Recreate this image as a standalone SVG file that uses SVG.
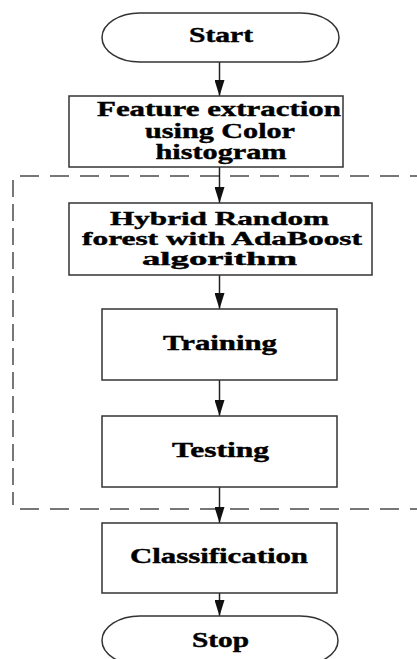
<svg xmlns="http://www.w3.org/2000/svg" width="417" height="659" viewBox="0 0 417 659">
<defs>
<style>
.box{fill:#fff;stroke:#333;stroke-width:1.5}
.lbl{font-family:"Liberation Serif","Times New Roman",serif;font-weight:bold;font-size:20px;fill:#000;stroke:#000;stroke-width:0.4;text-anchor:middle}
.sm{font-size:18px}
.conn{stroke:#222;stroke-width:1.5;fill:none}
.dash-h{stroke:#777;stroke-width:2;stroke-dasharray:19 11;fill:none}
.dash-v{stroke:#777;stroke-width:2;stroke-dasharray:17 7;fill:none}
</style>
<marker id="arr" viewBox="0 0 16 10" refX="16" refY="5" markerWidth="16" markerHeight="10" markerUnits="userSpaceOnUse" orient="auto">
<path d="M0,0 L16,5 L0,10 Z" fill="#111"/>
</marker>
</defs>
<rect width="417" height="659" fill="#fff"/>
<g id="group-boundary">
<line class="dash-h" x1="20" y1="176" x2="430" y2="176"/>
<line class="dash-h" x1="20" y1="509" x2="430" y2="509"/>
<line class="dash-v" x1="13" y1="180" x2="13" y2="505"/>
</g>
<g id="connectors">
<line class="conn" x1="219.5" y1="62" x2="219.5" y2="96" marker-end="url(#arr)"/>
<line class="conn" x1="219.5" y1="167" x2="219.5" y2="203" marker-end="url(#arr)"/>
<line class="conn" x1="219.5" y1="275" x2="219.5" y2="309" marker-end="url(#arr)"/>
<line class="conn" x1="219.5" y1="380" x2="219.5" y2="416" marker-end="url(#arr)"/>
<line class="conn" x1="219.5" y1="487" x2="219.5" y2="523" marker-end="url(#arr)"/>
<line class="conn" x1="219.5" y1="593" x2="219.5" y2="616" marker-end="url(#arr)"/>
</g>
<g id="start">
<rect class="box" x="102" y="13" width="237" height="49" rx="38" ry="24.5"/>
<text class="lbl" x="221" y="42" textLength="64" lengthAdjust="spacingAndGlyphs">Start</text>
</g>
<g id="feature-extraction">
<rect class="box" x="69" y="96" width="274" height="71"/>
<text class="lbl" x="219" y="116" textLength="244" lengthAdjust="spacingAndGlyphs">Feature extraction</text>
<text class="lbl" x="220" y="137.5" textLength="150" lengthAdjust="spacingAndGlyphs">using Color</text>
<text class="lbl" x="221" y="159" textLength="131" lengthAdjust="spacingAndGlyphs">histogram</text>
</g>
<g id="hybrid">
<rect class="box" x="69" y="203" width="303" height="72"/>
<text class="lbl sm" x="219.5" y="224.5" textLength="219" lengthAdjust="spacingAndGlyphs">Hybrid Random</text>
<text class="lbl sm" x="222" y="244.5" textLength="280" lengthAdjust="spacingAndGlyphs">forest with AdaBoost</text>
<text class="lbl sm" x="219.5" y="264.5" textLength="155" lengthAdjust="spacingAndGlyphs">algorithm</text>
</g>
<g id="training">
<rect class="box" x="102" y="309" width="235" height="71"/>
<text class="lbl" x="220" y="350" textLength="114" lengthAdjust="spacingAndGlyphs">Training</text>
</g>
<g id="testing">
<rect class="box" x="102" y="416" width="235" height="71"/>
<text class="lbl" x="220.5" y="457" textLength="97" lengthAdjust="spacingAndGlyphs">Testing</text>
</g>
<g id="classification">
<rect class="box" x="102" y="523" width="235" height="70"/>
<text class="lbl" x="219" y="563" textLength="178" lengthAdjust="spacingAndGlyphs">Classification</text>
</g>
<g id="stop">
<rect class="box" x="102" y="616" width="236" height="49" rx="38" ry="24.5"/>
<text class="lbl" x="220.5" y="647" textLength="57" lengthAdjust="spacingAndGlyphs">Stop</text>
</g>
</svg>
